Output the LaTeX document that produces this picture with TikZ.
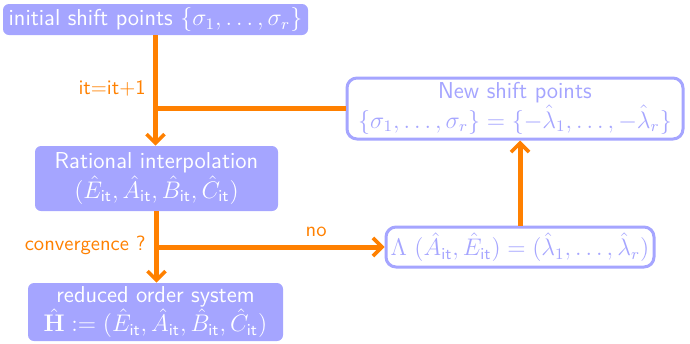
\documentclass[tikz,border=0pt]{standalone}
\usetikzlibrary{arrows.meta}
\definecolor{lav}{RGB}{165,165,255}
\definecolor{org}{RGB}{255,128,0}
\begin{document}
\begin{tikzpicture}[x=0.5pt,y=-0.5pt,
  font=\sffamily\fontsize{11.5}{13}\selectfont,
  filled/.style={fill=lav,draw=none,rounded corners=3pt,text=white,align=center,inner sep=0pt},
  outl/.style={draw=lav,line width=1.5pt,rounded corners=5pt,text=lav,align=center,inner sep=0pt},
  conn/.style={draw=org,line width=2.5pt},
  arr/.style={conn,-{Straight Barb[length=4.5pt,width=9pt,line width=1.8pt]}},
  lbl/.style={text=org,font=\sffamily\fontsize{10.3}{12}\selectfont,inner sep=0pt}]
\useasboundingbox (0,0) rectangle (690,343);
\node[filled,minimum width=152.5pt,minimum height=15.5pt] (b1) at (155.5,19.5) {initial shift points $\{\sigma_1,\ldots,\sigma_r\}$};
\node[filled,minimum width=121.5pt,minimum height=32.5pt] (b2) at (156.5,178.5) {Rational interpolation\\$(\hat E_{\mathsf{it}},\hat A_{\mathsf{it}},\hat B_{\mathsf{it}},\hat C_{\mathsf{it}})$};
\node[filled,minimum width=127.5pt,minimum height=29pt] (b3) at (155.5,312) {reduced order system\\$\hat{\mathbf{H}}:=(\hat E_{\mathsf{it}},\hat A_{\mathsf{it}},\hat B_{\mathsf{it}},\hat C_{\mathsf{it}})$};
\node[outl,minimum width=168pt,minimum height=30.5pt] (ns) at (515,108.5) {New shift points\\$\{\sigma_1,\ldots,\sigma_r\}=\{-\hat\lambda_1,\ldots,-\hat\lambda_r\}$};
\node[outl,minimum width=134pt,minimum height=20pt] (lam) at (520,247) {$\Lambda\ (\hat A_{\mathsf{it}},\hat E_{\mathsf{it}})=(\hat\lambda_1,\ldots,\hat\lambda_r)$};
\draw[arr] (b1.south) -- (b1.south |- b2.north);
\draw[conn] (ns.west) -- (ns.west -| b1.south);
\draw[arr] (b2.south) -- (b2.south |- b3.north);
\coordinate (c) at (b2.south |- lam.west);
\draw[arr] (c) -- node[lbl,above=4pt,pos=0.7] (no) {no} (lam.west);
\draw[arr] (lam.north) -- (lam.north |- ns.south);
\node[lbl,anchor=east] (it) at (146,88) {it=it+1};
\node[lbl,anchor=east] (cv) at (146,245) {convergence ?};
\end{tikzpicture}
\end{document}
